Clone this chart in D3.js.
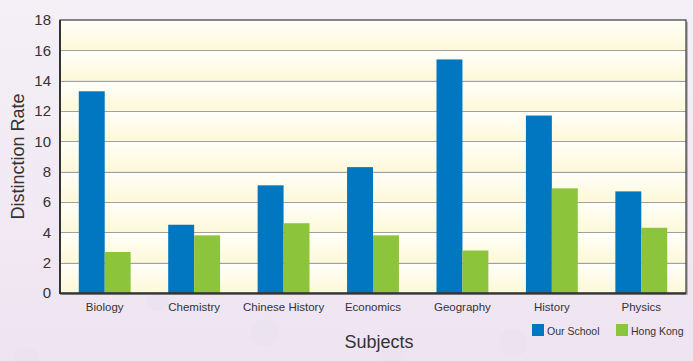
<!DOCTYPE html>
<html>
<head>
<meta charset="utf-8">
<script src="https://cdn.jsdelivr.net/npm/d3@7"></script>
<style>
  html, body { margin: 0; padding: 0; background: #f1eaf4; }
  svg { display: block; }
  text { font-family: "Liberation Sans", Arial, sans-serif; fill: #333; }
</style>
</head>
<body>
<svg id="chart" width="693" height="361"></svg>
<script>
// Distinction rates by subject
const subjects = ["Biology", "Chemistry", "Chinese History", "Economics", "Geography", "History", "Physics"];
const ourSchool = [13.3, 4.5, 7.1, 8.3, 15.4, 11.7, 6.7];
const hongKong = [2.7, 3.8, 4.6, 3.8, 2.8, 6.9, 4.3];
const seriesNames = ["Our School", "Hong Kong"];
const seriesColors = ["#0077c0", "#8cc43c"];
const yTicks = [0, 2, 4, 6, 8, 10, 12, 14, 16, 18];

const W = 693, H = 361;
const margin = { left: 60, top: 20, right: 7, bottom: 68 };
const innerW = W - margin.left - margin.right;
const innerH = H - margin.top - margin.bottom;

const svg = d3.select("#chart");
const defs = svg.append("defs");

// background page gradient
const bg = defs.append("linearGradient").attr("id", "pageBg").attr("x1", 0).attr("y1", 0).attr("x2", 0).attr("y2", 1);
bg.append("stop").attr("offset", "0%").attr("stop-color", "#f4f0f6");
bg.append("stop").attr("offset", "100%").attr("stop-color", "#efe4f2");
svg.append("rect").attr("width", W).attr("height", H).attr("fill", "url(#pageBg)");

// faint decorative circles
const dots = [[157, 300, 11], [265, 333, 14], [392, 357, 12], [513, 343, 14], [26, 361, 14]];
svg.selectAll("circle.deco").data(dots).join("circle")
  .attr("class", "deco")
  .attr("cx", d => d[0]).attr("cy", d => d[1]).attr("r", d => d[2])
  .attr("fill", "#ebe3f0");

// band gradient for plot stripes
const band = defs.append("linearGradient").attr("id", "band").attr("x1", 0).attr("y1", 0).attr("x2", 0).attr("y2", 1);
band.append("stop").attr("offset", "0%").attr("stop-color", "#fffffa");
band.append("stop").attr("offset", "100%").attr("stop-color", "#fdf8d8");

const g = svg.append("g").attr("transform", `translate(${margin.left},${margin.top})`);

const y = d3.scaleLinear().domain([0, 18]).range([innerH, 0]);
const x0 = d3.scaleBand().domain(subjects).range([0, innerW]).paddingInner(0.42).paddingOuter(0.21);
const x1 = d3.scaleBand().domain(seriesNames).range([0, x0.bandwidth()]).padding(0);

// shadow of frame
g.append("rect").attr("x", 2).attr("y", 2).attr("width", innerW).attr("height", innerH).attr("fill", "#b8b4b8");

// stripes between ticks
const bands = d3.pairs(yTicks);
g.selectAll("rect.band").data(bands).join("rect")
  .attr("class", "band")
  .attr("x", 0).attr("width", innerW)
  .attr("y", d => y(d[1])).attr("height", d => y(d[0]) - y(d[1]))
  .attr("fill", "url(#band)");

// gridlines
const grid = g.append("g");
grid.selectAll("line.gl").data(yTicks.slice(1, -1)).join("line")
  .attr("class", "gl")
  .attr("x1", 0).attr("x2", innerW)
  .attr("y1", d => Math.round(y(d)) + 0.5).attr("y2", d => Math.round(y(d)) + 0.5)
  .attr("stroke", "#a0a0a0").attr("stroke-width", 1.2);
grid.selectAll("line.gw").data(yTicks.slice(1, -1)).join("line")
  .attr("class", "gw")
  .attr("x1", 0).attr("x2", innerW)
  .attr("y1", d => Math.round(y(d)) + 1.8).attr("y2", d => Math.round(y(d)) + 1.8)
  .attr("stroke", "#ffffff").attr("stroke-width", 1);

// bars
const groups = g.selectAll("g.grp").data(subjects).join("g")
  .attr("class", "grp")
  .attr("transform", d => `translate(${x0(d)},0)`);
groups.selectAll("rect.bar").data((d, i) => [
    { key: seriesNames[0], v: ourSchool[i] },
    { key: seriesNames[1], v: hongKong[i] }
  ]).join("rect")
  .attr("class", "bar")
  .attr("x", d => x1(d.key))
  .attr("width", x1.bandwidth())
  .attr("y", d => y(d.v))
  .attr("height", d => y(0) - y(d.v))
  .attr("fill", (d, i) => seriesColors[i]);

// frame
g.append("rect").attr("x", 0).attr("y", 0).attr("width", innerW).attr("height", innerH)
  .attr("fill", "none").attr("stroke", "#3a3a3a").attr("stroke-width", 1.2);
g.append("line").attr("x1", 0).attr("x2", 0).attr("y1", 0).attr("y2", innerH + 1)
  .attr("stroke", "#333").attr("stroke-width", 2);
g.append("line").attr("x1", 0).attr("x2", innerW).attr("y1", innerH + 0.5).attr("y2", innerH + 0.5)
  .attr("stroke", "#333").attr("stroke-width", 2);

// y axis labels
const yAxis = g.append("g").call(d3.axisLeft(y).tickValues(yTicks).tickSize(0).tickPadding(9));
yAxis.select(".domain").remove();
yAxis.selectAll("text").attr("font-size", 15).style("fill", "#333")
  .attr("font-family", "'Liberation Sans', Arial, sans-serif");

// x axis labels
const xAxis = g.append("g").attr("transform", `translate(0,${innerH})`)
  .call(d3.axisBottom(x0).tickSize(0).tickPadding(10));
xAxis.select(".domain").remove();
xAxis.selectAll("text").attr("font-size", 11.5).style("fill", "#333")
  .attr("font-family", "'Liberation Sans', Arial, sans-serif");

// axis titles
svg.append("text")
  .attr("transform", `translate(24,${margin.top + innerH / 2}) rotate(-90)`)
  .attr("text-anchor", "middle")
  .attr("font-size", 18)
  .text("Distinction Rate");
svg.append("text")
  .attr("x", 379).attr("y", 348)
  .attr("text-anchor", "middle")
  .attr("font-size", 18)
  .text("Subjects");

// legend
const legend = svg.append("g").attr("transform", "translate(532,324)");
const items = legend.selectAll("g").data(seriesNames).join("g")
  .attr("transform", (d, i) => `translate(${i * 84},0)`);
items.append("rect").attr("width", 12).attr("height", 12).attr("fill", (d, i) => seriesColors[i]);
items.append("text").attr("x", 15).attr("y", 10.5).attr("font-size", 10.5).text(d => d);
</script>
</body>
</html>
